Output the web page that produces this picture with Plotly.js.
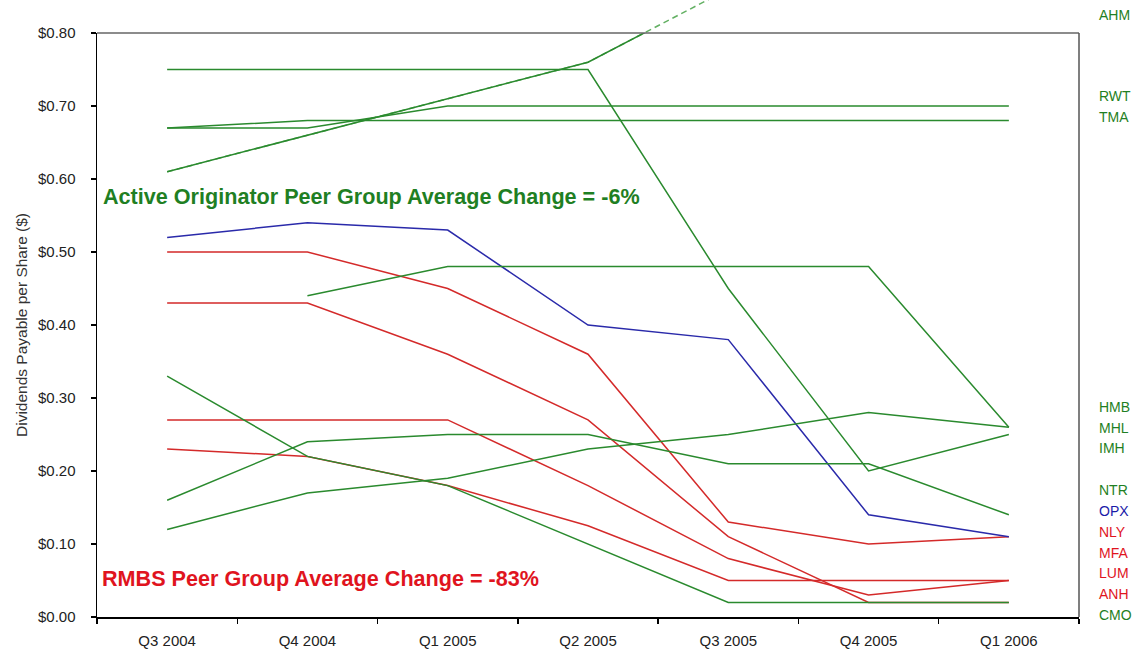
<!DOCTYPE html>
<html><head><meta charset="utf-8">
<script src="https://cdn.plot.ly/plotly-3.0.1.min.js"></script>
<style>html,body{margin:0;padding:0;background:#fff}#chart{width:1136px;height:659px}</style>
</head><body><div id="chart"></div>
<script>
// ---- data ----
const quarters = ['Q3 2004','Q4 2004','Q1 2005','Q2 2005','Q3 2005','Q4 2005','Q1 2006'];
const AHM = [0.61, 0.66, 0.71, 0.76, 0.86, null, null];
const RWT = [0.67, 0.67, 0.70, 0.70, 0.70, 0.70, 0.70];
const TMA = [0.67, 0.68, 0.68, 0.68, 0.68, 0.68, 0.68];
const HMB = [null, 0.44, 0.48, 0.48, 0.48, 0.48, 0.26];
const MHL = [0.12, 0.17, 0.19, 0.23, 0.25, 0.28, 0.26];
const IMH = [0.75, 0.75, 0.75, 0.75, 0.45, 0.20, 0.25];
const NTR = [0.16, 0.24, 0.25, 0.25, 0.21, 0.21, 0.14];
const OPX = [0.52, 0.54, 0.53, 0.40, 0.38, 0.14, 0.11];
const NLY = [0.50, 0.50, 0.45, 0.36, 0.13, 0.10, 0.11];
const MFA = [0.27, 0.27, 0.27, 0.18, 0.08, 0.03, 0.05];
const LUM = [0.23, 0.22, 0.18, 0.125, 0.05, 0.05, 0.05];
const ANH = [0.43, 0.43, 0.36, 0.27, 0.11, 0.02, 0.02];
const CMO = [0.33, 0.22, 0.18, 0.10, 0.02, 0.02, 0.02];
const yTickVals = [0, 0.1, 0.2, 0.3, 0.4, 0.5, 0.6, 0.7, 0.8];
const yTickText = ['$0.00','$0.10','$0.20','$0.30','$0.40','$0.50','$0.60','$0.70','$0.80'];
const labelNames = ['AHM','RWT','TMA','HMB','MHL','IMH','NTR','OPX','NLY','MFA','LUM','ANH','CMO'];
const noteOriginator = 'Active Originator Peer Group Average Change = -6%';
const noteRMBS = 'RMBS Peer Group Average Change = -83%';

// ---- styling ----
const GREEN = '#2a8a2e', RED = '#d42a2a', BLUE = '#2a2aaa';
const TXT_GREEN = '#1f7f23', TXT_RED = '#e0141e', TXT_BLUE = '#1a1aa8';
// drawing order: red, blue, then green on top
const series = [
  {n:'NLY', y:NLY, c:RED}, {n:'MFA', y:MFA, c:RED}, {n:'LUM', y:LUM, c:RED}, {n:'ANH', y:ANH, c:RED},
  {n:'OPX', y:OPX, c:BLUE},
  {n:'AHM', y:AHM, c:GREEN}, {n:'RWT', y:RWT, c:GREEN}, {n:'TMA', y:TMA, c:GREEN},
  {n:'HMB', y:HMB, c:GREEN}, {n:'MHL', y:MHL, c:GREEN}, {n:'IMH', y:IMH, c:GREEN},
  {n:'NTR', y:NTR, c:GREEN}, {n:'CMO', y:CMO, c:GREEN}
];
const labelColor = {AHM:TXT_GREEN,RWT:TXT_GREEN,TMA:TXT_GREEN,HMB:TXT_GREEN,MHL:TXT_GREEN,IMH:TXT_GREEN,
  NTR:TXT_GREEN,OPX:TXT_BLUE,NLY:TXT_RED,MFA:TXT_RED,LUM:TXT_RED,ANH:TXT_RED,CMO:TXT_GREEN};
const labelPy = [15, 96, 117, 407, 428, 448, 490, 511, 532, 553, 573, 594, 615];

// ---- geometry (pixels) ----
const Lpx = 97, Rpx = 1079, Tpx = 33, Bpx = 617;
const topFrac = (Bpx - Tpx) / Bpx;
const fullMax = 0.8 / topFrac;
const px2x = p => (p - Lpx) / (Rpx - Lpx);
const py2y = p => (Bpx - p) / Bpx;

const traces = [];
// dashed continuation outside the frame
traces.push({type:'scatter', mode:'lines', x:quarters, y:AHM, xaxis:'x', yaxis:'y',
  line:{color:'#62b062', width:1.5, dash:'6px,4px'}, hoverinfo:'skip', showlegend:false});
series.forEach(s => traces.push({type:'scatter', mode:'lines', name:s.n, x:quarters, y:s.y,
  xaxis:'x', yaxis:'y2', line:{color:s.c, width:1.5}, hoverinfo:'skip', showlegend:false}));

const font = 'Liberation Sans, Arial, sans-serif';
const annotations = labelNames.map((n, i) => ({
  xref:'paper', yref:'paper', x:px2x(1097), y:py2y(labelPy[i]), xanchor:'left', yanchor:'middle',
  text:n, showarrow:false, font:{family:font, size:14, color:labelColor[n]}
}));
annotations.push({xref:'paper', yref:'paper', x:px2x(101), y:py2y(197), xanchor:'left', yanchor:'middle',
  text:noteOriginator, showarrow:false, font:{family:font, size:21.6, weight:'bold', color:TXT_GREEN}});
annotations.push({xref:'paper', yref:'paper', x:px2x(100), y:py2y(578), xanchor:'left', yanchor:'middle',
  text:noteRMBS, showarrow:false, font:{family:font, size:21.6, weight:'bold', color:TXT_RED}});

const layout = {
  width:1136, height:659,
  margin:{l:Lpx, r:1136 - Rpx, t:0, b:659 - Bpx, pad:0},
  paper_bgcolor:'#ffffff', plot_bgcolor:'rgba(0,0,0,0)',
  showlegend:false, hovermode:false,
  font:{family:font, size:14, color:'#222'},
  xaxis:{type:'category', domain:[0,1], anchor:'y2', range:[-0.5, 6.5], tickson:'boundaries',
    ticks:'outside', ticklen:5, tickwidth:1.5, tickcolor:'#000', showline:true, linecolor:'#000', linewidth:1.5,
    showgrid:false, zeroline:false, fixedrange:true, ticklabelstandoff:9,
    tickfont:{family:font, size:15, color:'#222'}},
  yaxis:{domain:[0,1], anchor:'x', range:[0, fullMax], visible:false, fixedrange:true},
  yaxis2:{domain:[0, topFrac], anchor:'x', range:[0, 0.8], tickvals:yTickVals, ticktext:yTickText,
    ticks:'outside', ticklen:5, tickwidth:1.5, tickcolor:'#000', showline:true, linecolor:'#000', linewidth:1.5,
    showgrid:false, zeroline:false, fixedrange:true, ticklabelstandoff:12,
    tickfont:{family:font, size:15, color:'#222'},
    title:{text:'Dividends Payable per Share ($)', font:{family:font, size:15.5, color:'#333'}, standoff:6}},
  shapes:[
    {type:'line', xref:'paper', yref:'paper', x0:0, x1:1, y0:topFrac, y1:topFrac, line:{color:'#666', width:1.5}},
    {type:'line', xref:'paper', yref:'paper', x0:1, x1:1, y0:0, y1:topFrac, line:{color:'#555', width:1.5}}
  ],
  annotations:annotations
};
Plotly.newPlot('chart', traces, layout, {displayModeBar:false, staticPlot:true});
</script></body></html>
